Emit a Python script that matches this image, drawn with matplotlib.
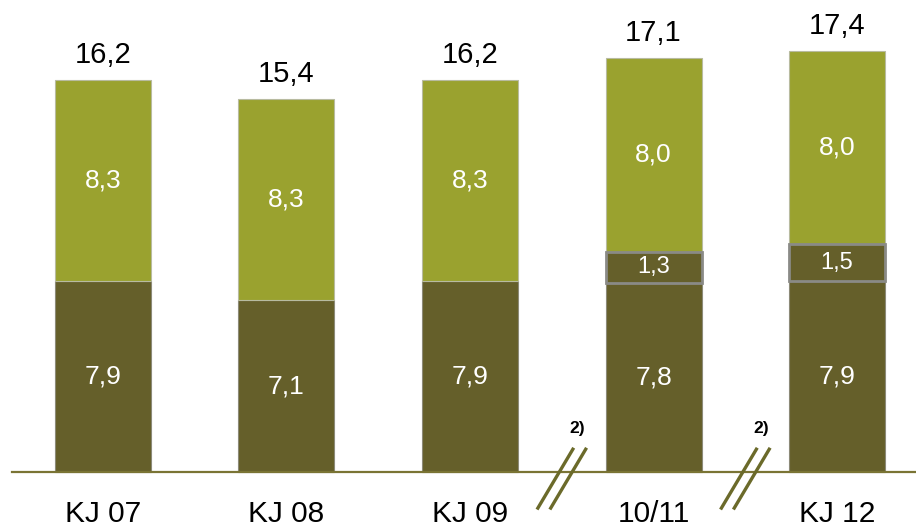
import matplotlib.pyplot as plt
import numpy as np
from matplotlib.lines import Line2D

plt.rcParams['font.family'] = ['Liberation Sans', 'DejaVu Sans']

# values per fiscal year
categories = ['KJ 07', 'KJ 08', 'KJ 09', '10/11', 'KJ 12']
base = [7.9, 7.1, 7.9, 7.8, 7.9]
middle = [0, 0, 0, 1.3, 1.5]
top = [8.3, 8.3, 8.3, 8.0, 8.0]
totals = [16.2, 15.4, 16.2, 17.1, 17.4]
breaks = [2.5, 3.5]

dark = '#655F2A'
light = '#9AA22F'
line_col = '#7A7434'


def fmt(v):
    return ('%.1f' % v).replace('.', ',')


fig = plt.figure(figsize=(9.16, 5.28), dpi=100)
ax = fig.add_axes([0, 0, 1, 1])
ax.axis('off')
ax.set_xlim(-0.561, 4.430)
ax.set_ylim(-2.314, 19.50)

x = np.arange(len(categories))
w = 0.523
base = np.array(base)
middle = np.array(middle)
top = np.array(top)

ax.bar(x, base, w, color=dark, edgecolor='#8c8a78', linewidth=0.8, zorder=2)
has_mid = middle > 0
ax.bar(x[has_mid], middle[has_mid], w, bottom=base[has_mid], color=dark,
       edgecolor='#8a8a86', linewidth=2, zorder=3)
ax.bar(x, top, w, bottom=base + middle, color=light, edgecolor='#b8bba0',
       linewidth=0.8, zorder=2)

for i in range(len(categories)):
    ax.text(x[i], base[i] / 2, fmt(base[i]), ha='center', va='center',
            color='white', fontsize=19, zorder=4)
    if middle[i] > 0:
        ax.text(x[i], base[i] + middle[i] / 2, fmt(middle[i]), ha='center',
                va='center', color='white', fontsize=17, zorder=4)
    ax.text(x[i], base[i] + middle[i] + top[i] / 2, fmt(top[i]), ha='center',
            va='center', color='white', fontsize=19, zorder=4)
    ax.text(x[i], totals[i] + 0.45, fmt(totals[i]), ha='center',
            va='bottom', color='black', fontsize=21, zorder=4)
    ax.text(x[i], -1.75, categories[i], ha='center', va='center',
            color='black', fontsize=21.5)

# baseline
ax.add_line(Line2D([-0.496, 4.43], [0, 0], color=line_col, lw=1.6, zorder=5))

# axis break marks with footnote
for b in breaks:
    for off in (-0.035, 0.035):
        ax.add_line(Line2D([b - 0.1 + off, b + 0.1 + off],
                           [-1.55, 1.0], color='#6B6A2A', lw=2.4,
                           zorder=5, solid_capstyle='butt'))
    ax.text(b + 0.085, 1.8, '2)', ha='center', va='center',
            fontsize=12.5, fontweight='bold', color='black')

fig.savefig('out.png', dpi=100)
